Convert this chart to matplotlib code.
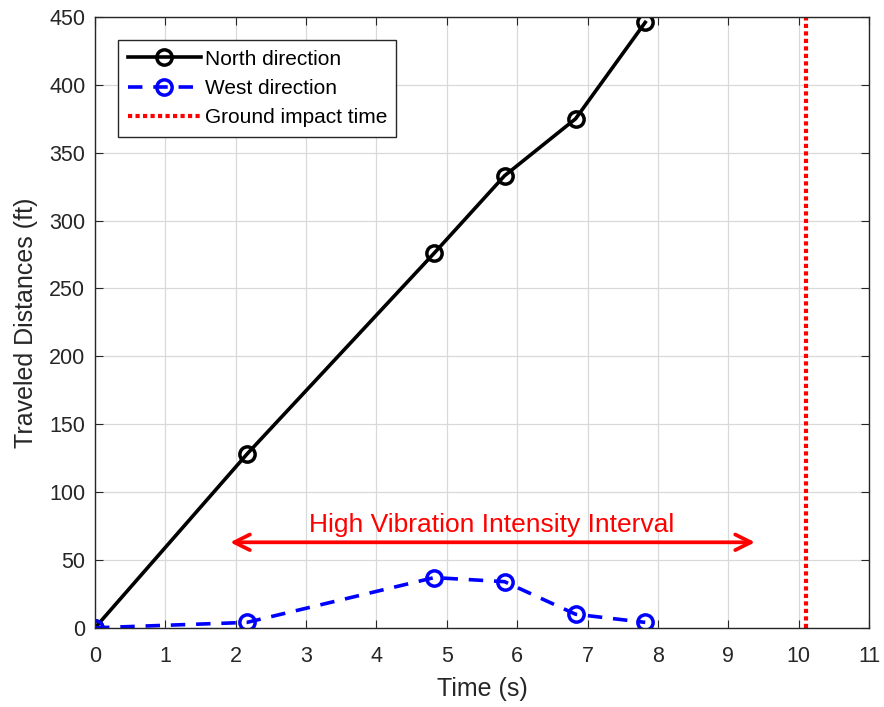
import matplotlib
matplotlib.use('Agg')
import matplotlib.pyplot as plt

plt.rcParams['font.family'] = ['Liberation Sans', 'DejaVu Sans']

# data
time_s = [0, 2.16, 4.82, 5.82, 6.83, 7.82]
north_ft = [0, 128, 276, 333, 375, 446]
west_ft = [0, 4, 37, 34, 10, 4]
impact_time = 10.1
interval = (1.92, 9.38)
interval_y = 63

fig = plt.figure(figsize=(8.84, 7.07), dpi=100)
ax = fig.add_axes([0.1075, 0.112, 0.8755, 0.864])

ax.plot(time_s, north_ft, '-o', color='black', lw=2.6, ms=11, mew=2.5,
        mfc='none', label='North direction')
ax.plot(time_s, west_ft, '--o', color='blue', lw=2.6, ms=11, mew=2.5,
        mfc='none', dashes=(4, 3), label='West direction')
ax.axvline(impact_time, color='red', ls=(0, (1, 0.8)), lw=3, label='Ground impact time')

ax.annotate('', xy=(interval[0], interval_y), xytext=(interval[1], interval_y),
            arrowprops=dict(arrowstyle='<->', color='red', lw=2.7,
                            mutation_scale=28, shrinkA=0, shrinkB=0))
ax.text(5.64, 76, 'High Vibration Intensity Interval',
        color='red', fontsize=19, ha='center', va='center')

ax.set_xlim(0, 11)
ax.set_ylim(0, 450)
ax.set_xticks(range(0, 12))
ax.set_yticks(range(0, 451, 50))
ax.grid(True, color='#d9d9d9', lw=0.9)
ax.set_axisbelow(True)
ax.tick_params(direction='in', top=True, right=True, labelsize=15.5,
               colors='#262626', length=6)
ax.tick_params(axis='x', pad=13)
ax.tick_params(axis='y', pad=7)
for s in ax.spines.values():
    s.set_color('#262626')
    s.set_linewidth(1)

ax.set_xlabel('Time (s)', fontsize=18, color='#262626', labelpad=7)
ax.set_ylabel('Traveled Distances (ft)', fontsize=18, color='#262626', labelpad=8)

leg = ax.legend(loc='upper left', bbox_to_anchor=(0.03, 0.962), fontsize=15,
                fancybox=False, framealpha=1, edgecolor='#262626',
                handlelength=3.5, handletextpad=0.2, borderpad=0.45,
                labelspacing=0.5, borderaxespad=0)
leg.get_frame().set_linewidth(1)

fig.savefig('out.png', dpi=100)
